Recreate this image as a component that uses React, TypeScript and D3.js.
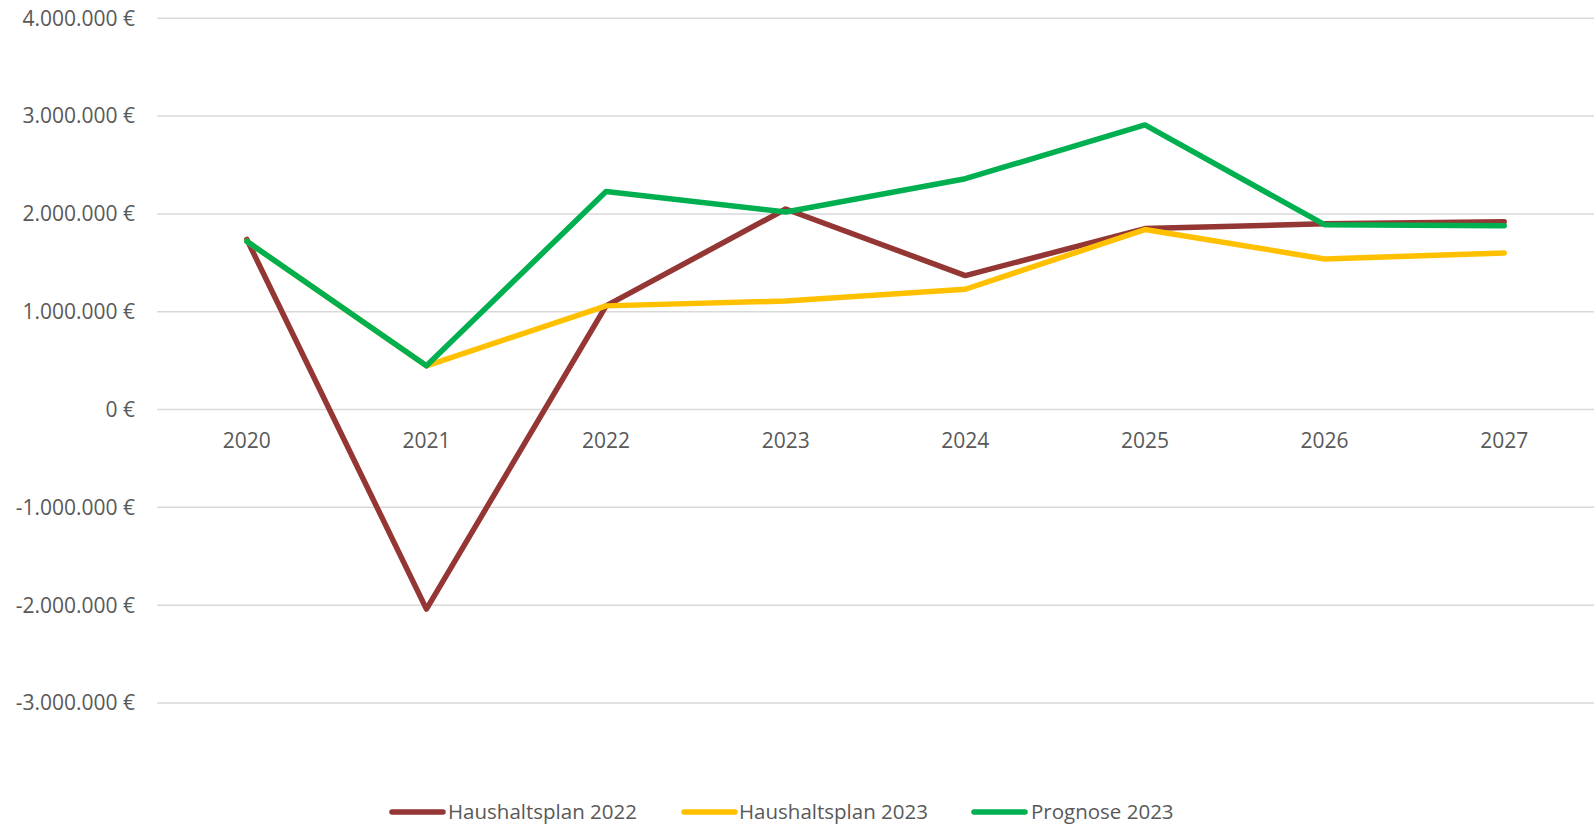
import React from "react";
import * as d3 from "d3";

const years = ["2020", "2021", "2022", "2023", "2024", "2025", "2026", "2027"];
const haushalt2022 = [1740000, -2040000, 1060000, 2050000, 1370000, 1850000, 1900000, 1920000];
const haushalt2023 = [1720000, 447000, 1060000, 1110000, 1230000, 1840000, 1540000, 1600000];
const prognose2023 = [1720000, 447000, 2230000, 2020000, 2360000, 2910000, 1890000, 1880000];
const yTicks = [4000000, 3000000, 2000000, 1000000, 0, -1000000, -2000000, -3000000];

const seriesNames = ["Haushaltsplan 2022", "Haushaltsplan 2023", "Prognose 2023"];
const seriesColors = ["#943634", "#FFC000", "#00B050"];
const seriesData = [haushalt2022, haushalt2023, prognose2023];

const W = 1596;
const H = 825;
const FONT = "'Open Sans', sans-serif";

function fmt(v: number): string {
  if (v === 0) return "0 €";
  const s = Math.abs(v).toString().replace(/\B(?=(\d{3})+(?!\d))/g, ".");
  return (v < 0 ? "-" : "") + s + " €";
}

export default function App() {
  const x = d3.scaleBand<string>().domain(years).range([157, 1594]);
  const y = d3.scaleLinear().domain([-3000000, 4000000]).range([703, 18.3]);
  const line = d3
    .line<number>()
    .x((_, i) => (x(years[i]) as number) + x.bandwidth() / 2)
    .y((d) => y(d));

  const legendItems = [
    { lx: 390, tx: 448 },
    { lx: 682, tx: 739 },
    { lx: 972, tx: 1031 },
  ];

  return (
    <svg
      width={W}
      height={H}
      style={{ position: "absolute", left: 0, top: 0, display: "block", background: "#fff" }}
    >
      {yTicks.map((t) => (
        <g key={t}>
          <line x1={157} x2={1594} y1={y(t)} y2={y(t)} stroke="#D9D9D9" strokeWidth={1.5} />
          <text
            x={135}
            y={y(t)}
            dy="0.35em"
            textAnchor="end"
            fontFamily={FONT}
            fontSize={21}
            fill="#595959"
          >
            {fmt(t)}
          </text>
        </g>
      ))}
      {years.map((yr) => (
        <text
          key={yr}
          x={(x(yr) as number) + x.bandwidth() / 2}
          y={441}
          dy="0.35em"
          textAnchor="middle"
          fontFamily={FONT}
          fontSize={21}
          fill="#595959"
        >
          {yr}
        </text>
      ))}
      {seriesData.map((d, i) => (
        <path
          key={seriesNames[i]}
          d={line(d) || ""}
          fill="none"
          stroke={seriesColors[i]}
          strokeWidth={5.5}
          strokeLinejoin="round"
          strokeLinecap="round"
        />
      ))}
      {legendItems.map((it, i) => (
        <g key={seriesNames[i]}>
          <line
            x1={it.lx + 2}
            x2={it.lx + 53}
            y1={812}
            y2={812}
            stroke={seriesColors[i]}
            strokeWidth={5.5}
            strokeLinecap="round"
          />
          <text
            x={it.tx}
            y={812}
            dy="0.35em"
            fontFamily={FONT}
            fontSize={20.5}
            fill="#595959"
          >
            {seriesNames[i]}
          </text>
        </g>
      ))}
    </svg>
  );
}
